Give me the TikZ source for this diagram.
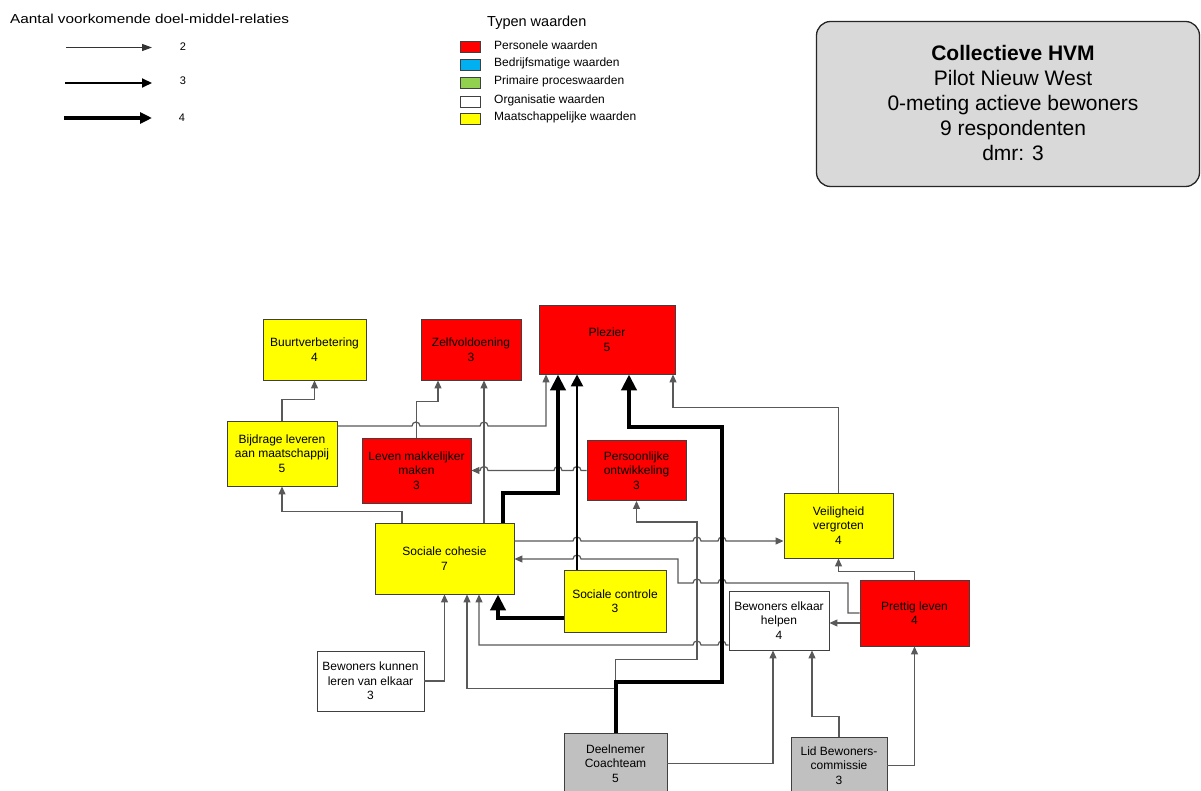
\documentclass[tikz,border=0pt]{standalone}
\usepackage{fontspec}
\setmainfont{Liberation Sans}
\usetikzlibrary{arrows.meta}
\definecolor{persred}{RGB}{255,0,0}
\definecolor{bedrblue}{RGB}{0,176,240}
\definecolor{primgreen}{RGB}{146,208,80}
\definecolor{maatyellow}{RGB}{255,255,0}
\definecolor{actorgray}{RGB}{192,192,192}
\definecolor{titlegray}{RGB}{217,217,217}
\definecolor{linegray}{gray}{0.35}

\begin{document}
\begin{tikzpicture}[x=1pt, y=-1pt,
  val/.style={draw=black!75, line width=0.9pt, align=center, inner sep=2pt, font=\fontsize{12}{14.5}\selectfont},
  rel2/.style={draw=linegray, line width=1.2pt, -{Triangle[length=8pt,width=7pt]}},
  rel3/.style={draw=black, line width=2.4pt, -{Triangle[length=12pt,width=12pt]}},
  rel4/.style={draw=black, line width=4pt, -{Triangle[length=16pt,width=15pt]}},
  jr/.style={insert path={arc[start angle=180,end angle=360,radius=4]}},
  jl/.style={insert path={arc[start angle=0,end angle=-180,radius=4]}},
  leg/.style={font=\fontsize{12}{13}\selectfont, anchor=west, inner sep=0pt},
  sw/.style={draw=black!75, line width=0.9pt, minimum width=20pt, minimum height=11pt, inner sep=0pt}
]
  \useasboundingbox (0,0) rectangle (1201,791);
  \fill[white] (0,0) rectangle (1201,791);

  % legend: number of relations
  \node[leg, font=\fontsize{13}{15}\selectfont] (hdrrel) at (10,19) {\scalebox{1.18}[1]{Aantal voorkomende doel-middel-relaties}};
  \node[font=\fontsize{11}{13}\selectfont] (n2) at (183,46.5) {2};
  \node[font=\fontsize{11}{13}\selectfont] (n3) at (183,80.5) {3};
  \node[font=\fontsize{11}{13}\selectfont] (n4) at (182,118) {4};
  \coordinate (l2) at (66,47.5);
  \coordinate (l3) at (65,83);
  \coordinate (l4) at (64,118);
  \draw[rel2, draw=black!80, -{Triangle[length=10pt,width=7pt]}] (l2) -- ++(86,0);
  \draw[rel3, line width=2pt, -{Triangle[length=10pt,width=9pt]}] (l3) -- ++(87,0);
  \draw[rel4, line width=3.5pt, -{Triangle[length=12pt,width=11pt]}] (l4) -- ++(88,0);

  % legend: value types
  \node[leg, font=\fontsize{14.5}{16}\selectfont] (typen) at (487,23) {Typen waarden};
  \foreach \col/\txt/\yy [count=\i] in {persred/Personele waarden/47,
      bedrblue/Bedrijfsmatige waarden/64.5, primgreen/Primaire proceswaarden/82.5,
      white/Organisatie waarden/101.5, maatyellow/Maatschappelijke waarden/118.5} {
    \node[sw, fill=\col] (sw\i) at (470.5,\yy) {};
    \node[leg] (lt\i) at (494,\yy-1.5) {\txt};
  }

  % title
  \node[draw=black!85, line width=1.3pt, rounded corners=14pt, fill=titlegray,
        minimum width=383pt, minimum height=165pt] (title) at (1008,104) {};
  \node[align=center, font=\fontsize{21}{25}\selectfont] (titletxt) at (1013,103)
        {\textbf{Collectieve HVM}\\Pilot Nieuw West\\0-meting actieve bewoners\\9 respondenten\\dmr: 3};

  % values
  \node[val, fill=maatyellow, minimum width=103pt, minimum height=61pt] (buurt) at (314.5,349.5) {Buurtverbetering\\4};
  \node[val, fill=persred, minimum width=100pt, minimum height=61pt] (zelf) at (471,349.5) {Zelfvoldoening\\3};
  \node[val, fill=persred, minimum width=136pt, minimum height=69pt] (plezier) at (607,339.5) {Plezier\\5};
  \node[val, fill=maatyellow, minimum width=110pt, minimum height=65pt] (bijdrage) at (282,453.5) {Bijdrage leveren\\aan maatschappij\\5};
  \node[val, fill=persred, minimum width=109pt, minimum height=65pt] (leven) at (416.5,470.5) {Leven makkelijker\\maken\\3};
  \node[val, fill=persred, minimum width=99pt, minimum height=60pt] (persoon) at (636.5,470.5) {Persoonlijke\\ontwikkeling\\3};
  \node[val, fill=maatyellow, minimum width=109pt, minimum height=65pt] (veilig) at (838.5,525.5) {Veiligheid\\vergroten\\4};
  \node[val, fill=persred, minimum width=109pt, minimum height=66pt] (prettig) at (914.5,613) {Prettig leven\\4};
  \node[val, fill=white, minimum width=100pt, minimum height=59pt] (elkaar) at (779,620.5) {Bewoners elkaar\\helpen\\4};
  \node[val, fill=maatyellow, minimum width=139pt, minimum height=71pt] (cohesie) at (444.5,558.5) {Sociale cohesie\\7};
  \node[val, fill=maatyellow, minimum width=102pt, minimum height=62pt] (controle) at (615,601) {Sociale controle\\3};
  \node[val, fill=white, minimum width=107pt, minimum height=60pt] (leren) at (370.5,681) {Bewoners kunnen\\leren van elkaar\\3};
  \node[val, fill=actorgray, minimum width=103pt, minimum height=61pt] (coach) at (615.5,763.5) {Deelnemer\\Coachteam\\5};
  \node[val, fill=actorgray, minimum width=96pt, minimum height=57pt] (lid) at (839,765.5) {Lid Bewoners-\\commissie\\3};

  % relations: 2
  \draw[rel2] (bijdrage.north) -- ++(0,-21) -| (buurt.south);
  \draw[rel2] (bijdrage.east |- 0,426) -- (412,426) [jr] -- (480,426) [jr] -| (plezier.south -| 546,0);
  \draw[rel2] (leven.north) -- ++(0,-36) -| (zelf.south -| 438,0);
  \draw[rel2] (cohesie.north -| 484,0) -- (zelf.south -| 484,0);
  \draw[rel2] (cohesie.north -| 402,0) -- ++(0,-11) -| (bijdrage.south);
  \draw[rel2] (veilig.north) -- ++(0,-85) -| (plezier.south -| 673,0);
  \draw[rel2] (persoon.west) -- (581,470.5) [jl] -- (562,470.5) [jl] -- (488,470.5) [jl] -- (leven.east);
  \draw[rel2] (coach.north) -- ++(0,-73) -| (697,522) -| (persoon.south);
  \draw[rel2] (coach.north) -- ++(0,-44) -| (cohesie.south -| 467,0);
  \draw[rel2] (leren.east) -| (cohesie.south);
  \draw[rel2] (elkaar.west |- 0,645) -- (726,645) [jl] -- (701,645) [jl] -| (cohesie.south -| 479,0);
  \draw[rel2] (cohesie.east |- 0,541) -- (573,541) [jr] -- (693,541) [jr] -- (718,541) [jr] -- (veilig.west |- 0,541);
  \draw[rel2] (prettig.west) -- (848,613) |- (726,583) [jl] -- (701,583) [jl] -- (678,583) |- (581,559) [jl] -- (cohesie.east |- 0,559);
  \draw[rel2] (prettig.north) -- ++(0,-8) -| (veilig.south);
  \draw[rel2] (prettig.west |- 0,623) -- (elkaar.east |- 0,623);
  \draw[rel2] (coach.east) -| (elkaar.south -| 773,0);
  \draw[rel2] (lid.north) -- ++(0,-20) -| (elkaar.south -| 812,0);
  \draw[rel2] (lid.east) -| (prettig.south);

  % relations: 3 and 4
  \draw[rel3] (controle.north -| 577,0) -- (plezier.south -| 577,0);
  \draw[rel4] (cohesie.north -| 503,0) -- ++(0,-30) -| (plezier.south -| 558,0);
  \draw[rel4] (coach.north) -- ++(0,-51) -| (722,427) -| (plezier.south -| 629,0);
  \draw[rel4] (controle.west |- 0,618) -| (cohesie.south -| 498,0);
\end{tikzpicture}
\end{document}
